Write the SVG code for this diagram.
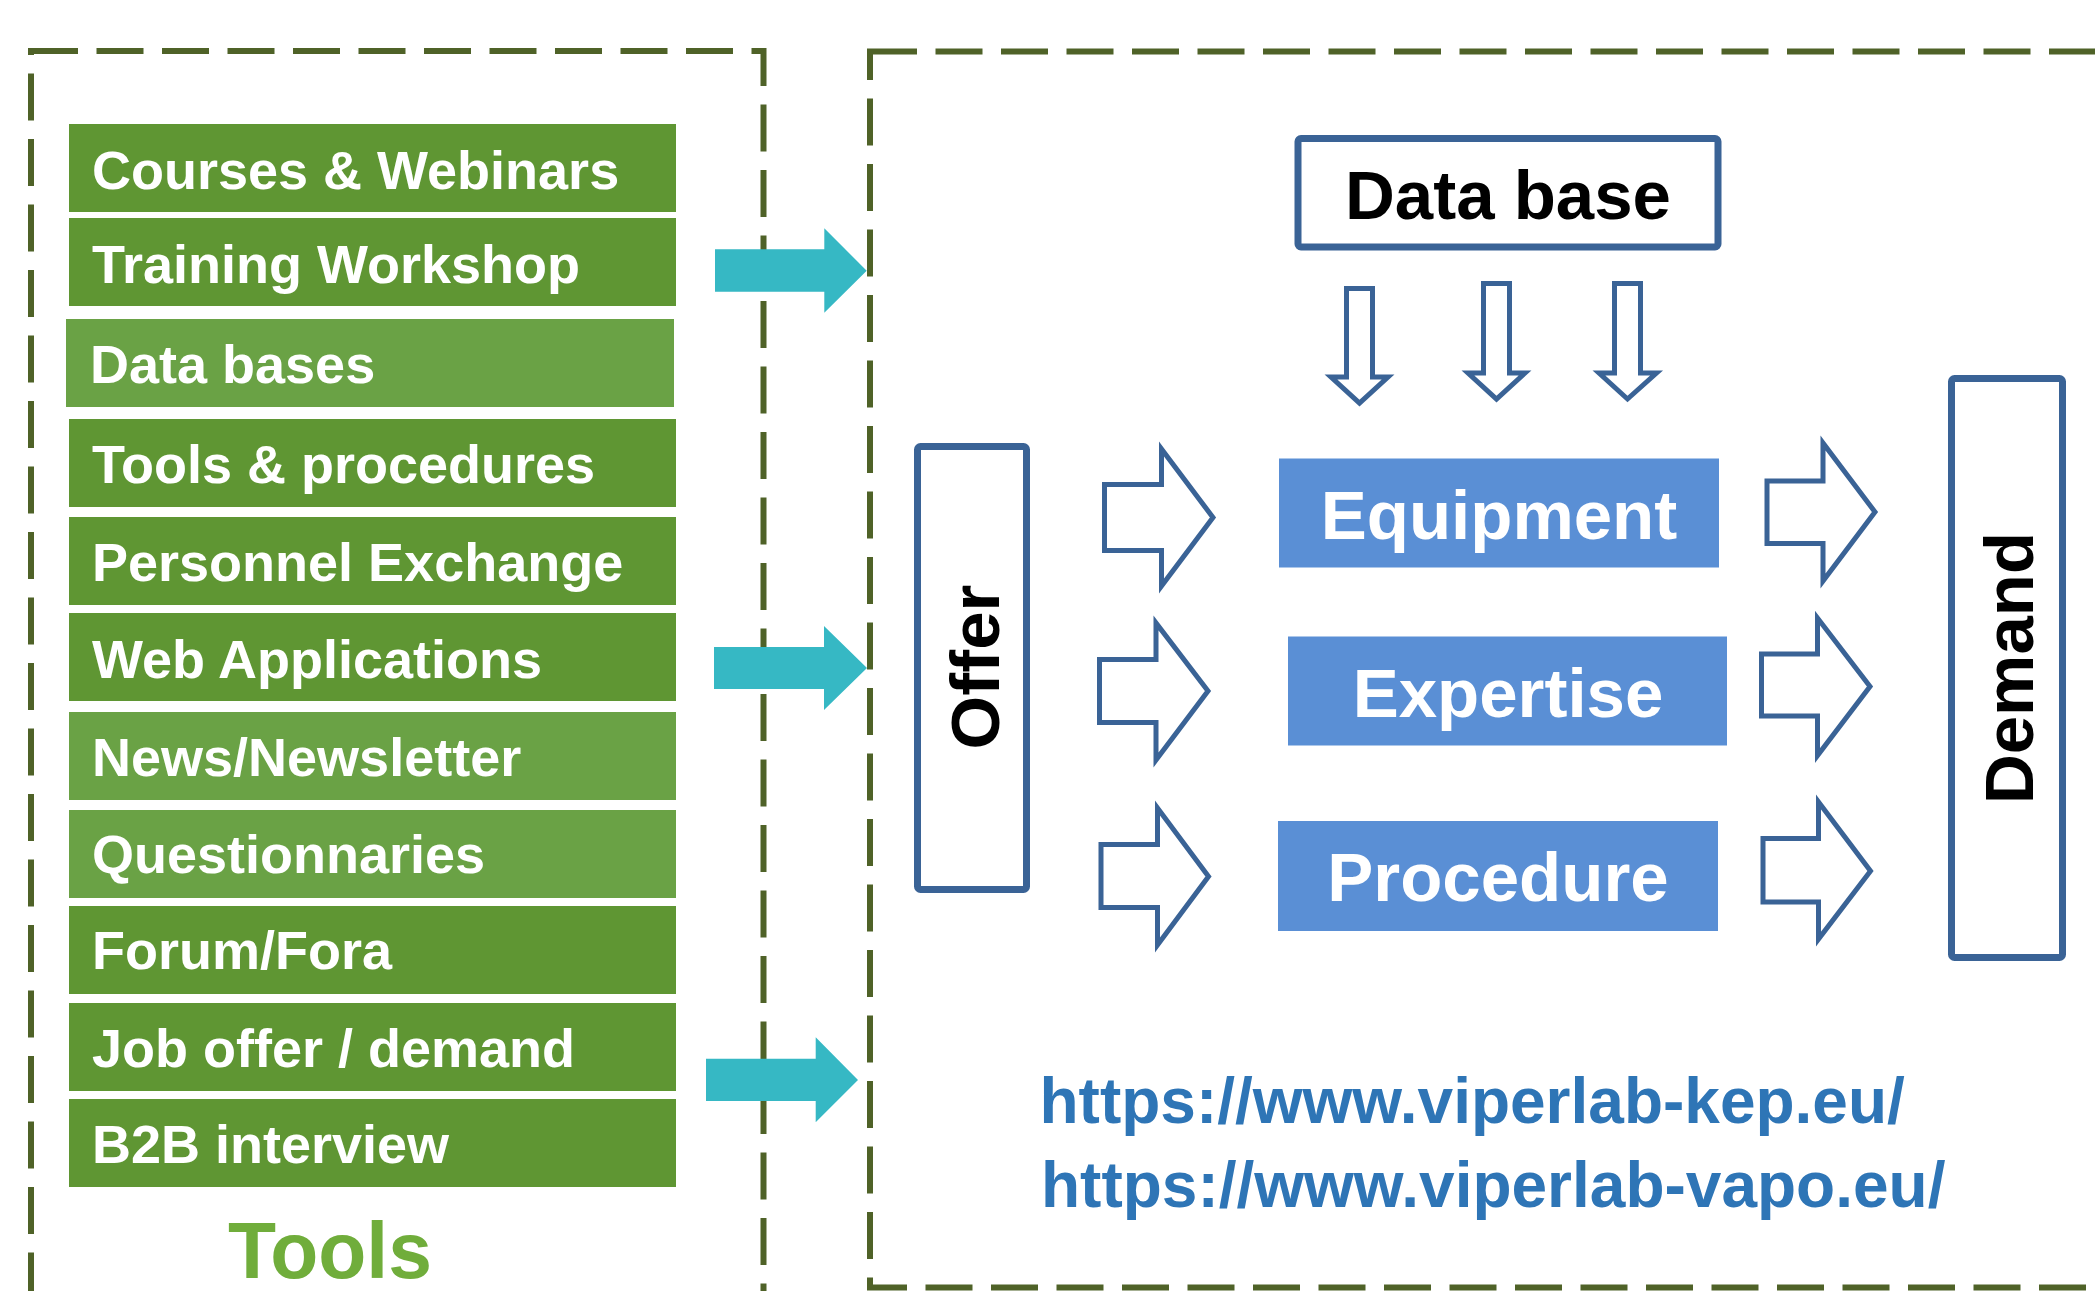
<svg xmlns="http://www.w3.org/2000/svg" width="2095" height="1291" viewBox="0 0 2095 1291">
  <style>
    text { font-family: "Liberation Sans", Arial, sans-serif; font-weight: bold; }
    .frame { fill: none; stroke: #4f6228; stroke-width: 6; stroke-dasharray: 47 18.5; }
    .tool-dark { fill: #5f9633; }
    .tool-light { fill: #6aa245; }
    .tool-label { fill: #ffffff; font-size: 54px; }
    .feed { fill: #36b8c4; }
    .outline-box { fill: #ffffff; stroke: #3a6396; stroke-width: 7; }
    .hollow { fill: #ffffff; stroke: #3a6396; stroke-width: 5; stroke-linejoin: miter; }
    .topic { fill: #5a8fd5; }
    .topic-label { fill: #ffffff; font-size: 69px; text-anchor: middle; }
    .black-label { fill: #000000; font-size: 69px; text-anchor: middle; }
    .url { fill: #2e75b6; font-size: 64px; }
  </style>

  <rect width="2095" height="1291" fill="#ffffff"/>

  <!-- dashed frames -->
  <g id="frames">
    <rect class="frame" x="31" y="51" width="732.5" height="1300"/>
    <rect class="frame" x="870" y="51.5" width="1300" height="1236"/>
  </g>

  <!-- tool list -->
  <g id="tool-courses"><rect class="tool-dark" x="69" y="124" width="607" height="88"/><text class="tool-label" x="92" y="189">Courses &amp; Webinars</text></g>
  <g id="tool-training"><rect class="tool-dark" x="69" y="218" width="607" height="88"/><text class="tool-label" x="92" y="283">Training Workshop</text></g>
  <g id="tool-databases"><rect class="tool-light" x="66" y="319" width="608" height="88"/><text class="tool-label" x="90" y="383">Data bases</text></g>
  <g id="tool-procedures"><rect class="tool-dark" x="69" y="419" width="607" height="88"/><text class="tool-label" x="92" y="483">Tools &amp; procedures</text></g>
  <g id="tool-personnel"><rect class="tool-dark" x="69" y="517" width="607" height="88"/><text class="tool-label" x="92" y="581">Personnel Exchange</text></g>
  <g id="tool-web"><rect class="tool-dark" x="69" y="613" width="607" height="88"/><text class="tool-label" x="92" y="678">Web Applications</text></g>
  <g id="tool-news"><rect class="tool-light" x="69" y="712" width="607" height="88"/><text class="tool-label" x="92" y="776">News/Newsletter</text></g>
  <g id="tool-questionnaries"><rect class="tool-light" x="69" y="810" width="607" height="88"/><text class="tool-label" x="92" y="873">Questionnaries</text></g>
  <g id="tool-forum"><rect class="tool-dark" x="69" y="906" width="607" height="88"/><text class="tool-label" x="92" y="969">Forum/Fora</text></g>
  <g id="tool-job"><rect class="tool-dark" x="69" y="1003" width="607" height="88"/><text class="tool-label" x="92" y="1067">Job offer / demand</text></g>
  <g id="tool-b2b"><rect class="tool-dark" x="69" y="1099" width="607" height="88"/><text class="tool-label" x="92" y="1163">B2B interview</text></g>
  <g id="tools-title"><text x="228" y="1278" font-size="80" fill="#70ad3b" textLength="204" lengthAdjust="spacingAndGlyphs">Tools</text></g>

  <!-- offer / demand side -->
  <g id="database">
    <rect class="outline-box" x="1298" y="138.5" width="420" height="108.5" rx="3"/>
    <text class="black-label" x="1508" y="219">Data base</text>
  </g>
  <g id="offer">
    <rect class="outline-box" x="917.5" y="446.5" width="109" height="443" rx="3"/>
    <text class="black-label" font-size="68" transform="translate(999,667) rotate(-90)" x="0" y="0">Offer</text>
  </g>
  <g id="demand">
    <rect class="outline-box" x="1951.5" y="378.5" width="111" height="579" rx="3"/>
    <text class="black-label" font-size="68" transform="translate(2033,668) rotate(-90)" x="0" y="0">Demand</text>
  </g>
  <g id="equipment">
    <rect class="topic" x="1279" y="458.5" width="440" height="109"/>
    <text class="topic-label" x="1499" y="538.5">Equipment</text>
  </g>
  <g id="expertise">
    <rect class="topic" x="1288" y="636.5" width="439" height="109"/>
    <text class="topic-label" x="1508" y="717">Expertise</text>
  </g>
  <g id="procedure">
    <rect class="topic" x="1278" y="821" width="440" height="110"/>
    <text class="topic-label" x="1498" y="901">Procedure</text>
  </g>
  <g id="links">
    <text class="url" x="1039.5" y="1122.5">https://www.viperlab-kep.eu/</text>
    <text class="url" x="1041" y="1206.5">https://www.viperlab-vapo.eu/</text>
  </g>

  <!-- connectors -->
  <g id="connectors">
    <polygon class="feed" points="715,249.3 824.3,249.3 824.3,228.3 866.7,270.7 824.3,312.7 824.3,291.7 715,291.7"/>
    <polygon class="feed" points="714,647 824,647 824,626 867,668 824,710 824,689 714,689"/>
    <polygon class="feed" points="706,1058.7 815.7,1058.7 815.7,1037.3 858,1080 815.7,1122.3 815.7,1101 706,1101"/>

    <polygon class="hollow" points="1346.5,288.5 1372.5,288.5 1372.5,377 1388,377 1359.5,403 1331,377 1346.5,377"/>
    <polygon class="hollow" points="1483.5,283.5 1509.5,283.5 1509.5,373 1525,373 1496.5,399 1468,373 1483.5,373"/>
    <polygon class="hollow" points="1614.5,283.5 1640.5,283.5 1640.5,373 1656.5,373 1627.5,399 1599,373 1614.5,373"/>

    <polygon class="hollow" points="1104.5,484.5 1161.5,484.5 1161.5,449 1213,517.5 1161.5,586 1161.5,550.5 1104.5,550.5"/>
    <polygon class="hollow" points="1099.5,659.5 1156,659.5 1156,623 1208,691 1156,760 1156,722.5 1099.5,722.5"/>
    <polygon class="hollow" points="1101,844.5 1157.5,844.5 1157.5,808 1208.5,876.5 1157.5,945 1157.5,907.5 1101,907.5"/>

    <polygon class="hollow" points="1767,481 1823,481 1823,443 1875,512 1823,581 1823,543.5 1767,543.5"/>
    <polygon class="hollow" points="1761.5,654 1817.5,654 1817.5,618 1870,686.5 1817.5,755.5 1817.5,716 1761.5,716"/>
    <polygon class="hollow" points="1763,838.5 1818.5,838.5 1818.5,802 1870.5,871 1818.5,939 1818.5,902 1763,902"/>
  </g>
</svg>
